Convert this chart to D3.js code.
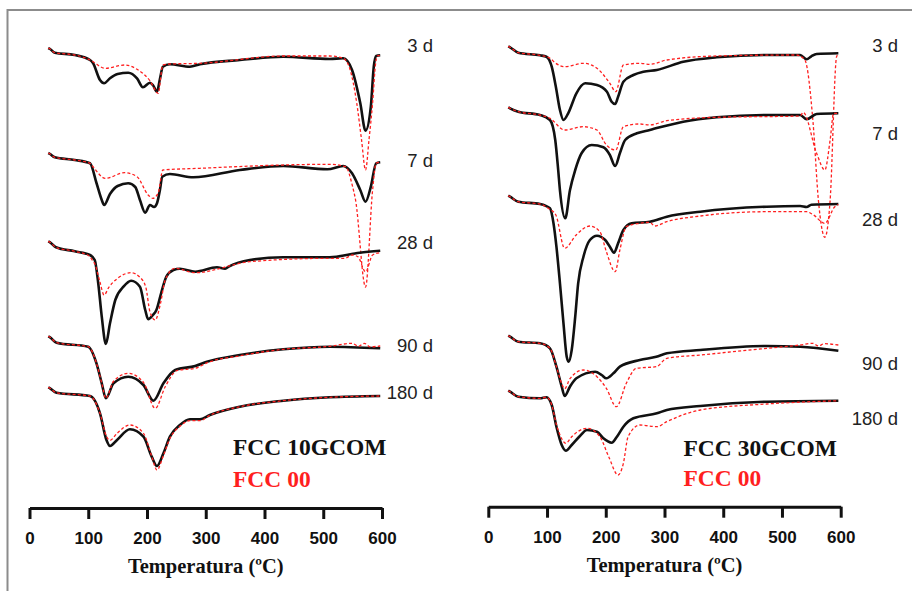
<!DOCTYPE html>
<html>
<head>
<meta charset="utf-8">
<script src="https://cdn.jsdelivr.net/npm/d3@7/dist/d3.min.js"></script>
<style>
  html, body { margin: 0; padding: 0; background: #fff; }
  svg { display: block; }
</style>
</head>
<body>
<svg id="chart" width="913" height="591"></svg>
<script>
// ---- Data: DTG curves (a.u., downward = mass loss), temperature in °C ----
const ages = ["3 d", "7 d", "28 d", "90 d", "180 d"];
const tickTemps = [0, 100, 200, 300, 400, 500, 600];

// stacking shift applied to each age (a.u.)
const shift10 = [-49, -154, -242.3, -337.3, -388.3];
const shift30 = [-47.3, -108.3, -196.7, -336.7, -391.7];

// FCC 10GCOM (left panel)
const g10_3d = [[32,1],[35,0],[43,-3.7],[77,-6],[103,-11],[108,-14],[120,-31],[127,-34.3],[137,-29.3],[150,-25],[168,-23.7],[183,-29.3],[193,-38.3],[205,-33.7],[210,-36],[217,-42.7],[222,-30],[227,-17.7],[239,-15.3],[273,-17.7],[290,-15.3],[358,-11],[432,-7.7],[511,-10],[534,-9.3],[549,-21],[563,-54],[572,-81.7],[581,-57.7],[586,-17.7],[590,-7],[597,-6.3]];
const g10_7d = [[32,1],[35,0],[43,-3.3],[77,-6],[103,-9.3],[114,-29],[123,-46],[127,-51],[137,-40],[150,-32],[168,-29.3],[180,-33],[188,-46],[197,-58.7],[205,-51],[212,-53],[217,-49.3],[222,-36],[226,-22.7],[239,-20],[279,-23.3],[358,-16],[432,-12],[507,-15.3],[534,-12],[549,-19.3],[563,-36],[572,-47.7],[581,-32.7],[590,-9.3],[597,-8.3]];
const g10_28d = [[32,1],[35,0],[45,-5],[77,-9],[103,-12.7],[111,-17.7],[117,-41],[123,-74.4],[130,-101.7],[137,-81],[146,-57.7],[160,-44.4],[173,-38.4],[188,-44.4],[197,-67.7],[202,-77],[210,-72.7],[216,-67.7],[224,-51],[233,-34.4],[245,-27.7],[256,-26.4],[282,-29.4],[319,-25],[333,-26.4],[340,-24],[375,-17.7],[432,-15],[511,-15],[562,-10.4],[597,-8.4]];
const g10_90d = [[32,1],[35,0],[46,-5.4],[100,-9.4],[114,-26],[123,-46],[130,-61],[143,-46],[168,-39.4],[194,-47.7],[211,-63.4],[228,-46],[248,-32.7],[282,-28.7],[302,-24.4],[358,-17.7],[432,-12],[511,-9.4],[597,-11]];
const g10_180d = [[32,1],[35,0],[46,-4.4],[103,-7.7],[120,-25],[131,-51.7],[137,-57.7],[149,-51.7],[171,-41],[194,-48.4],[208,-68.4],[217,-77.7],[228,-65],[239,-48.4],[256,-36.7],[273,-31],[290,-31],[307,-26.7],[358,-18.4],[432,-12.4],[511,-9],[597,-7.7]];

// FCC 00 reference drawn with the left panel
const r10_3d = [[32,1],[35,0],[43,-3.7],[77,-6],[103,-11],[108,-12.7],[129,-19.3],[162,-16],[183,-20.3],[205,-31.7],[219,-44.3],[227,-16],[239,-15],[290,-14.3],[432,-7],[511,-7],[534,-9.3],[545,-19.3],[557,-54],[565,-90],[572,-121],[578,-90],[584,-54],[589,-15],[592,-7],[597,-6.3]];
const r10_7d = [[32,1],[35,0],[43,-3.3],[77,-6],[103,-9.3],[108,-12.7],[129,-24.3],[162,-18.7],[183,-22.7],[202,-41],[210,-44.3],[219,-39],[227,-16],[290,-14.3],[432,-11],[511,-10.3],[538,-12.7],[550,-32.7],[555,-46],[572,-133],[584,-36],[590,-9.3],[597,-8.3]];
const r10_28d = [[32,1],[35,0],[45,-5],[77,-9],[100,-13],[106,-17],[112,-22.7],[120,-40],[127,-52.7],[135,-45],[150,-36],[173,-30.4],[188,-35],[198,-45],[205,-69.4],[214,-77.7],[223,-61],[231,-37.7],[248,-26],[282,-30.4],[375,-19.4],[511,-16],[537,-16],[549,-12.7],[559,-14.4],[572,-29.4],[584,-12.7],[597,-10.4]];
const r10_90d = [[32,1],[35,0],[46,-5.4],[100,-9.4],[114,-26],[123,-46],[130,-61],[143,-44],[168,-36],[194,-45],[214,-71],[231,-49.4],[252,-33],[282,-31],[302,-25.5],[358,-18.5],[432,-12],[511,-9],[549,-6],[560,-9],[570,-6],[580,-9.5],[597,-8.7]];
const r10_180d = [[32,1],[35,0],[46,-4.4],[103,-7.7],[120,-25],[131,-48],[137,-52],[149,-45],[171,-36.7],[194,-45],[208,-68],[217,-81.7],[228,-67],[239,-50],[256,-38],[273,-32.4],[290,-32.4],[307,-27],[358,-18.4],[432,-12.4],[511,-9],[597,-7.7]];

// FCC 30GCOM (right panel)
const g30_3d = [[34,1],[37,0],[51,-5.4],[88,-8],[99,-9.4],[108,-19.4],[115,-39.4],[122,-62.7],[128,-72.7],[136,-66],[150,-46],[165,-36],[185,-37.7],[202,-44.4],[210,-54.4],[216,-56.7],[221,-49.4],[230,-34.4],[247,-27.7],[264,-24.4],[287,-22.7],[332,-14.4],[389,-10],[474,-7.7],[531,-7.7],[542,-12],[550,-9],[559,-6.7],[596,-6]];
const g30_7d = [[34,1],[37,0],[51,-3.4],[88,-6.7],[105,-11.7],[114,-31.7],[119,-61.7],[122,-82],[131,-110],[139,-82],[148,-61.7],[159,-44.7],[176,-36.7],[196,-39],[207,-46.7],[216,-57.7],[224,-45],[233,-31.7],[253,-25],[275,-21.7],[332,-13.4],[389,-9],[474,-6.7],[531,-6.7],[542,-11],[559,-5.7],[596,-5]];
const g30_28d = [[34,1],[37,0],[51,-5],[88,-7.3],[105,-11.6],[111,-26.6],[116,-50],[122,-86.6],[128,-126.6],[133.5,-160],[137,-165],[142,-153.3],[148,-120],[153,-86.6],[162,-60],[173,-43.3],[185,-39],[199,-43.3],[207,-50],[214,-56],[221,-46.6],[230,-33.3],[244,-26.6],[275,-25],[304,-20],[361,-15],[474,-10],[531,-9.3],[542,-10.3],[550,-8],[596,-7.3]];
const g30_90d = [[34,1],[37,0],[51,-5],[88,-6.6],[105,-11.6],[116,-30],[125,-50],[130,-59.3],[139,-50],[150,-41.6],[182,-35],[193,-38.3],[201,-41.6],[213,-36.6],[224,-30],[258,-23.3],[286,-20],[304,-16.6],[361,-13.3],[474,-9.3],[531,-10],[596,-14]];
const g30_180d = [[34,1],[37,0],[51,-5],[88,-6.6],[99,-5.5],[108,-13.3],[116,-35],[125,-53.3],[132,-59],[142,-53.3],[156,-44.3],[168,-38.3],[185,-40],[196,-46.6],[210,-51],[219,-45],[230,-35],[247,-26.6],[287,-21.6],[304,-18.3],[361,-14.3],[474,-10],[596,-9]];

// FCC 00 reference drawn with the right panel
const r30_3d = [[34,1],[37,0],[51,-5.4],[88,-8],[105,-11],[115,-16],[130,-19.4],[162,-16],[185,-21],[207,-36],[217,-44.4],[230,-17.7],[258,-16],[275,-17],[304,-12.7],[389,-8.7],[525,-7.7],[539,-12.7],[553,-75.7],[562,-152.7],[573,-190],[582,-153],[593,-9.4],[596,-7]];
const r30_7d = [[34,1],[37,0],[51,-3.4],[88,-6.7],[105,-10],[130,-21.7],[162,-18.4],[185,-21.7],[201,-36.7],[217,-41.7],[230,-18.4],[258,-15.7],[275,-16.7],[304,-12.4],[389,-9],[531,-7.7],[536,-4],[559,-45],[573,-61.7],[582,-31.7],[588,-5],[596,-5]];
const r30_28d = [[34,1],[37,0],[51,-5],[88,-7.3],[102,-11.6],[115,-18.3],[130,-51.6],[150,-38],[173,-29.3],[190,-35],[201,-55],[216,-75],[224,-53.3],[235,-30],[258,-26.6],[275,-25.6],[283,-29.3],[304,-25],[361,-19.3],[474,-15],[542,-15],[553,-18],[573,-26.6],[590,-10],[596,-8]];
const r30_90d = [[34,1],[37,0],[51,-5],[88,-6.6],[105,-11.6],[116,-30],[125,-47],[130,-52],[139,-42],[162,-33.3],[185,-40],[201,-51.6],[218,-70],[235,-46.6],[252,-31.6],[286,-30],[304,-21.6],[361,-18.3],[474,-11.6],[531,-8.3],[553,-6.6],[562,-9.3],[572,-7],[596,-8.3]];
const r30_180d = [[34,1],[37,0],[51,-5],[88,-6.6],[99,-5.5],[108,-13.3],[116,-33],[125,-47],[132,-51.6],[142,-45],[168,-36.6],[190,-45],[205,-65],[221,-83.3],[230,-71.6],[238,-45],[258,-33.3],[287,-35],[304,-30],[361,-18.3],[474,-12.3],[596,-9]];

const panels = [
  { name: "FCC 10GCOM", shift: shift10,
    sample: [g10_3d, g10_7d, g10_28d, g10_90d, g10_180d],
    ref: [r10_3d, r10_7d, r10_28d, r10_90d, r10_180d] },
  { name: "FCC 30GCOM", shift: shift30,
    sample: [g30_3d, g30_7d, g30_28d, g30_90d, g30_180d],
    ref: [r30_3d, r30_7d, r30_28d, r30_90d, r30_180d] }
];

// ---- Layout ----
const layout = [
  { x0: 29.5, x1: 382, axisY: 508, labelX: 433, labelY: [51.5, 166.5, 249, 352, 398.5],
    legendX: 233, legendY: [455, 486.5], titleY: 573 },
  { x0: 488.3, x1: 840.7, axisY: 506.7, labelX: 898, labelY: [51.5, 140, 226, 370, 425],
    legendX: 683.5, legendY: [456, 486], titleY: 572 }
];
const RED = "#ff1f1f";

const svg = d3.select("#chart");

// outer frame
svg.append("path")
  .attr("d", "M7.5,591 V10 H912")
  .attr("fill", "none").attr("stroke", "#8c8c8c").attr("stroke-width", 2);

// a.u. to screen: one unit per pixel, stacked downward
const y = d3.scaleLinear().domain([0, -591]).range([0, 591]);

panels.forEach((p, i) => {
  const L = layout[i];
  const x = d3.scaleLinear().domain([0, 600]).range([L.x0, L.x1]);
  const g = svg.append("g");

  p.shift.forEach((s, k) => {
    const line = d3.line()
      .x(d => x(d[0]))
      .y(d => y(s + d[1]))
      .curve(d3.curveMonotoneX);

    g.append("path")
      .datum(p.sample[k])
      .attr("d", line)
      .attr("fill", "none")
      .attr("stroke", "#111")
      .attr("stroke-width", 2.6)
      .attr("stroke-linejoin", "round");

    g.append("path")
      .datum(p.ref[k])
      .attr("d", line)
      .attr("fill", "none")
      .attr("stroke", RED)
      .attr("stroke-width", 1.3)
      .attr("stroke-dasharray", "3,2.2");

    g.append("text")
      .attr("x", L.labelX).attr("y", L.labelY[k])
      .attr("text-anchor", "end")
      .attr("font-family", "'Liberation Sans', Arial, sans-serif")
      .attr("font-size", 18.5)
      .attr("fill", "#222")
      .text(ages[k]);
  });

  // legend
  g.append("text")
    .attr("x", L.legendX).attr("y", L.legendY[0])
    .attr("font-family", "'Liberation Serif', 'Times New Roman', serif")
    .attr("font-weight", "bold").attr("font-size", 23.5)
    .attr("fill", "#111")
    .text(p.name);
  g.append("text")
    .attr("x", L.legendX).attr("y", L.legendY[1])
    .attr("font-family", "'Liberation Serif', 'Times New Roman', serif")
    .attr("font-weight", "bold").attr("font-size", 23.5)
    .attr("fill", RED)
    .text("FCC 00");

  // temperature axis
  const ax = svg.append("g")
    .attr("transform", `translate(0,${L.axisY})`)
    .call(d3.axisBottom(x).tickValues(tickTemps).tickSize(11).tickSizeOuter(0).tickPadding(13));
  ax.select(".domain").attr("stroke", "#111").attr("stroke-width", 3);
  ax.selectAll(".tick line").attr("stroke", "#111").attr("stroke-width", 3);
  ax.selectAll(".tick text")
    .attr("font-family", "'Liberation Sans', Arial, sans-serif")
    .attr("font-weight", "bold").attr("font-size", 17)
    .attr("fill", "#111");

  svg.append("text")
    .attr("x", (L.x0 + L.x1) / 2).attr("y", L.titleY)
    .attr("text-anchor", "middle")
    .attr("font-family", "'Liberation Serif', 'Times New Roman', serif")
    .attr("font-weight", "bold").attr("font-size", 20.5)
    .attr("fill", "#111")
    .text("Temperatura (ºC)");
});
</script>
</body>
</html>
